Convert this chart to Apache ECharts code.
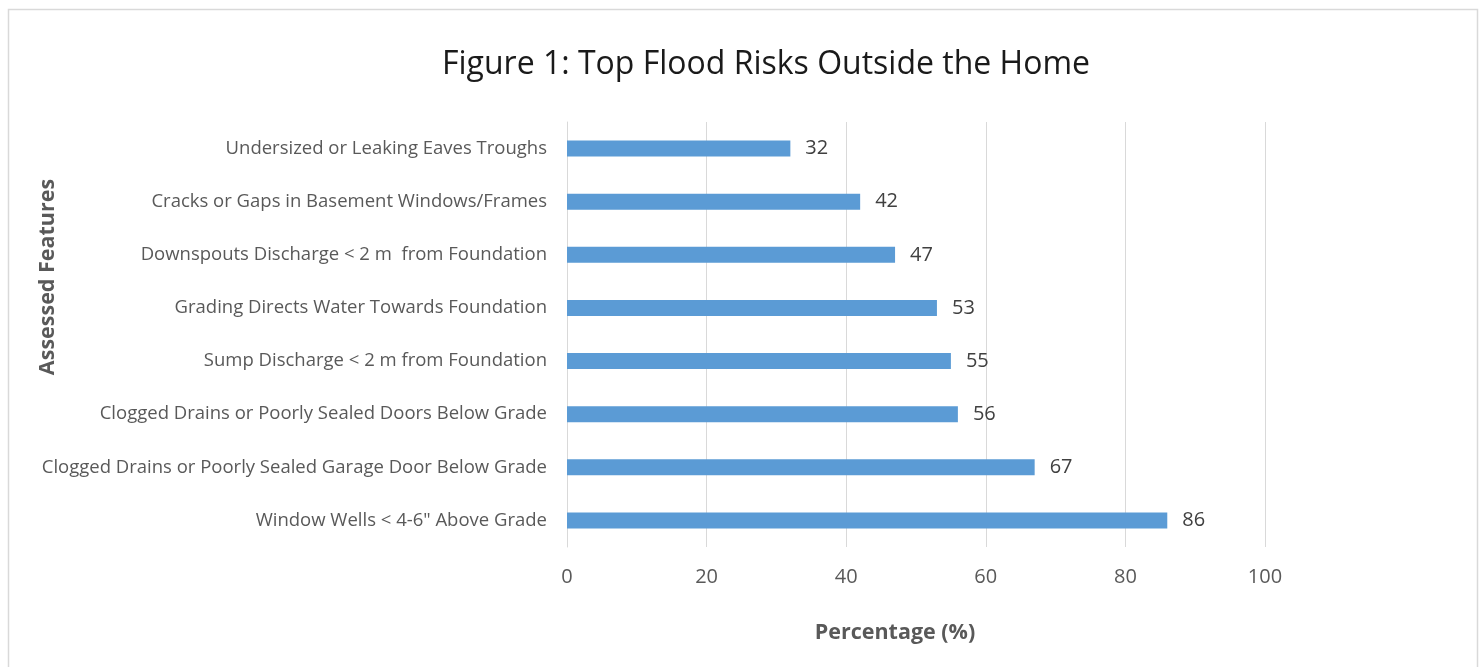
<!DOCTYPE html>
<html>
<head>
<meta charset="utf-8">
<script src="https://cdn.jsdelivr.net/npm/echarts@6/dist/echarts.min.js"></script>
<style>
  html, body { margin: 0; padding: 0; background: #fff; }
  #chart { width: 1484px; height: 667px; }
</style>
</head>
<body>
<div id="chart"></div>
<script>
// Assessed features, listed top to bottom
const categories = [
  'Undersized or Leaking Eaves Troughs',
  'Cracks or Gaps in Basement Windows/Frames',
  'Downspouts Discharge < 2 m  from Foundation',
  'Grading Directs Water Towards Foundation',
  'Sump Discharge < 2 m from Foundation',
  'Clogged Drains or Poorly Sealed Doors Below Grade',
  'Clogged Drains or Poorly Sealed Garage Door Below Grade',
  'Window Wells < 4-6" Above Grade'
];
// Share of homes with each risk (%)
const percentages = [32, 42, 47, 53, 55, 56, 67, 86];
const xTicks = [0, 20, 40, 60, 80, 100];

const FONT = '"Open Sans", sans-serif';

const chart = echarts.init(document.getElementById('chart'), null, { renderer: 'canvas' });

chart.setOption({
  backgroundColor: '#ffffff',
  animation: false,
  grid: { left: 567, right: 219, top: 122, bottom: 120, containLabel: false },
  xAxis: {
    type: 'value',
    min: xTicks[0],
    max: xTicks[xTicks.length - 1],
    interval: xTicks[1] - xTicks[0],
    axisLine: { show: false },
    axisTick: { show: false },
    splitLine: { show: true, lineStyle: { color: '#d9d9d9', width: 1 } },
    axisLabel: { color: '#595959', fontFamily: FONT, fontSize: 20, margin: 20 }
  },
  yAxis: {
    type: 'category',
    data: categories,
    inverse: true,
    axisLine: { show: true, lineStyle: { color: '#d9d9d9', width: 1 } },
    axisTick: { show: false },
    splitLine: { show: false },
    axisLabel: { color: '#595959', fontFamily: FONT, fontSize: 18.5, margin: 20 }
  },
  series: [{
    type: 'bar',
    data: percentages,
    barWidth: 16,
    itemStyle: { color: '#5b9bd5' },
    label: {
      show: true,
      position: 'right',
      distance: 15,
      color: '#404040',
      fontFamily: FONT,
      fontSize: 20
    }
  }],
  graphic: [
    {
      type: 'rect',
      silent: true,
      shape: { x: 8.5, y: 9.5, width: 1469, height: 700 },
      style: { fill: 'none', stroke: '#d9d9d9', lineWidth: 1.5 }
    },
    {
      type: 'text',
      x: 766, y: 65,
      style: {
        text: 'Figure 1: Top Flood Risks Outside the Home',
        fill: '#1a1a1a',
        font: '32px ' + FONT,
        textAlign: 'center',
        textVerticalAlign: 'middle'
      }
    },
    {
      type: 'text',
      x: 895, y: 633,
      style: {
        text: 'Percentage (%)',
        fill: '#595959',
        font: 'bold 21.5px ' + FONT,
        textAlign: 'center',
        textVerticalAlign: 'middle'
      }
    },
    {
      type: 'text',
      x: 48, y: 277,
      rotation: Math.PI / 2,
      style: {
        text: 'Assessed Features',
        fill: '#595959',
        font: 'bold 21.5px ' + FONT,
        textAlign: 'center',
        textVerticalAlign: 'middle'
      }
    }
  ]
});
</script>
</body>
</html>
